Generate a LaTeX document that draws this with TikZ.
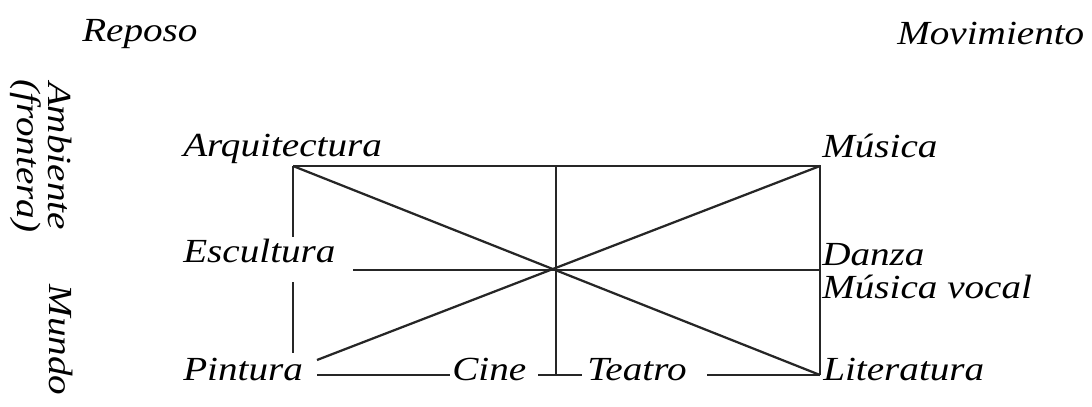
\documentclass[tikz,border=0pt]{standalone}
\usepackage{fontspec}
\setmainfont[FakeStretch=1.16]{Liberation Serif}
\usetikzlibrary{positioning}
\tikzset{
  lbl/.style={font=\fontsize{24}{22}\selectfont\itshape,inner sep=0pt,anchor=base west},
  side/.style={font=\fontsize{24}{22}\selectfont\itshape,inner sep=0pt,rotate=-90,align=center},
  ln/.style={line width=1.6pt,black!85}
}
\begin{document}
\begin{tikzpicture}[x=0.025cm,y=-0.025cm]
    \useasboundingbox (0,0) rectangle (1092,407);
    % labels
    \node[lbl] (rep) at (82,42)  {Reposo};
    \node[lbl] (mov) at (897,45) {Movimiento};
    \node[side] (amb) at (41,156) {Ambiente\\(frontera)};
    \node[side] (mun) at (61,340) {Mundo};
    \node[lbl] (arq) at (183,156) {Arquitectura};
    \node[lbl] (mus) at (822,157) {Música};
    \node[lbl] (esc) at (183,262) {Escultura};
    \node[lbl] (dan) at (822,265) {Danza};
    \node[lbl] (muv) at (822,298) {Música vocal};
    \node[lbl] (pin) at (183,380) {Pintura};
    \node[lbl] (cin) at (452,380) {Cine};
    \node[lbl] (tea) at (587,380) {Teatro};
    \node[lbl] (lit) at (823,380) {Literatura};
    % frame points
    \coordinate (tl) at (293,166);
    \coordinate (tr) at (820,166);
    \coordinate (br) at (820,375);
    \coordinate (tm) at (556,166);
    \coordinate (bm) at (556,375);
    \coordinate (ml) at (353,270);
    \coordinate (mr) at (820,270);
    \coordinate (pd) at (317,360);
    \coordinate (la) at (293,237);
    \coordinate (lb) at (293,282);
    \coordinate (lc) at (293,353);
    \coordinate (b1) at (317,375);
    \coordinate (b2) at (450,375);
    \coordinate (b3) at (538,375);
    \coordinate (b4) at (582,375);
    \coordinate (b5) at (707,375);
    \draw[ln] (tl) -- (tr) -- (br);
    \draw[ln] (tl) -- (la); \draw[ln] (lb) -- (lc);
    \draw[ln] (tm) -- (bm);
    \draw[ln] (ml) -- (mr);
    \draw[ln] (tl) -- (br);
    \draw[ln] (pd) -- (tr);
    \draw[ln] (b1) -- (b2); \draw[ln] (b3) -- (b4); \draw[ln] (b5) -- (br);
\end{tikzpicture}
\end{document}
